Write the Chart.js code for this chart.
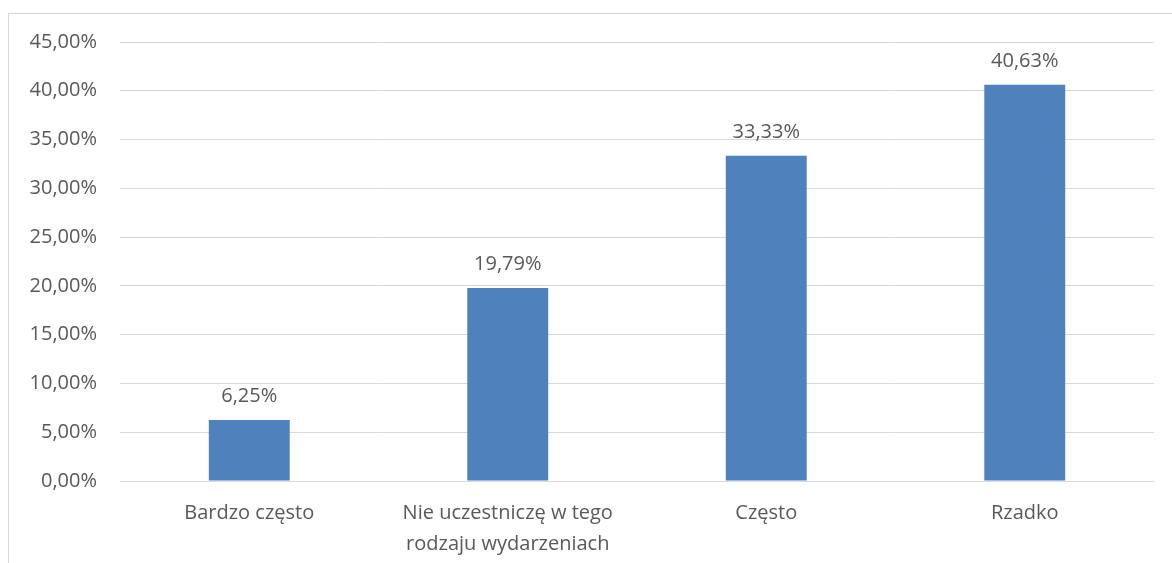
<!DOCTYPE html>
<html>
<head>
<meta charset="utf-8">
<script src="https://cdn.jsdelivr.net/npm/chart.js@4"></script>
<style>
  html, body { margin: 0; padding: 0; background: #fff; }
  #frame {
    position: absolute; left: 8px; top: 13px; width: 1180px; height: 600px;
    border: 1px solid #d9d9d9; box-sizing: border-box;
  }
  #wrap { position: absolute; left: 0; top: 0; width: 1172px; height: 563px; }
</style>
</head>
<body>
<div id="frame"></div>
<div id="wrap"><canvas id="barChart"></canvas></div>
<script>
// ---------- data
const categories = [
    "Bardzo często",
    ["Nie uczestniczę w tego", "rodzaju wydarzeniach"],
    "Często",
    "Rzadko"
];

const values = [6.25, 19.79, 33.33, 40.63];

const yTicks = [0, 5, 10, 15, 20, 25, 30, 35, 40, 45];


const fmt = v => v.toFixed(2).replace(".", ",") + "%";

const textColor = "#595959";
const fontFamily = '"Open Sans", sans-serif';


// value labels above the bars
const valueLabels = {
    id: "valueLabels",
    afterDatasetsDraw(chart) {
        const ctx = chart.ctx;
        const meta = chart.getDatasetMeta(0);
        ctx.save();
        ctx.font = "20px " + fontFamily;
        ctx.fillStyle = textColor;
        ctx.textAlign = "center";
        ctx.textBaseline = "alphabetic";
        meta.data.forEach((bar, i) => {
            ctx.fillText(fmt(values[i]), bar.x, bar.y - 18);
        });
        ctx.restore();
    }
};


const barChart = new Chart(document.getElementById("barChart"), {

    type: "bar",

    data: {
        labels: categories,
        datasets: [{
            data: values,
            backgroundColor: "#4f81bd",
            barPercentage: 0.313,
            categoryPercentage: 1
        }]
    },

    options: {
        responsive: true,
        maintainAspectRatio: false,
        animation: false,
        layout: {
            padding: { top: 42, right: 18, bottom: 0, left: 0 }
        },
        plugins: {
            legend: { display: false },
            tooltip: { enabled: false }
        },
        scales: {
            x: {
                grid: { display: false, drawTicks: false },
                border: { display: false },
                ticks: {
                    color: textColor,
                    padding: 17,
                    maxRotation: 0,
                    font: { family: fontFamily, size: 20, lineHeight: 1.55 }
                },
                afterFit(scale) { scale.height = 82; }
            },
            y: {
                min: 0,
                max: 45,
                afterBuildTicks(scale) {
                    scale.ticks = yTicks.map(v => ({ value: v }));
                },
                grid: { color: "#d9d9d9", lineWidth: 1, drawTicks: false },
                border: { display: false },
                ticks: {
                    color: textColor,
                    padding: 23,
                    font: { family: fontFamily, size: 20 },
                    callback: v => fmt(v)
                },
                afterFit(scale) { scale.width = 120; }
            }
        }
    },

    plugins: [valueLabels]
});
</script>
</body>
</html>
